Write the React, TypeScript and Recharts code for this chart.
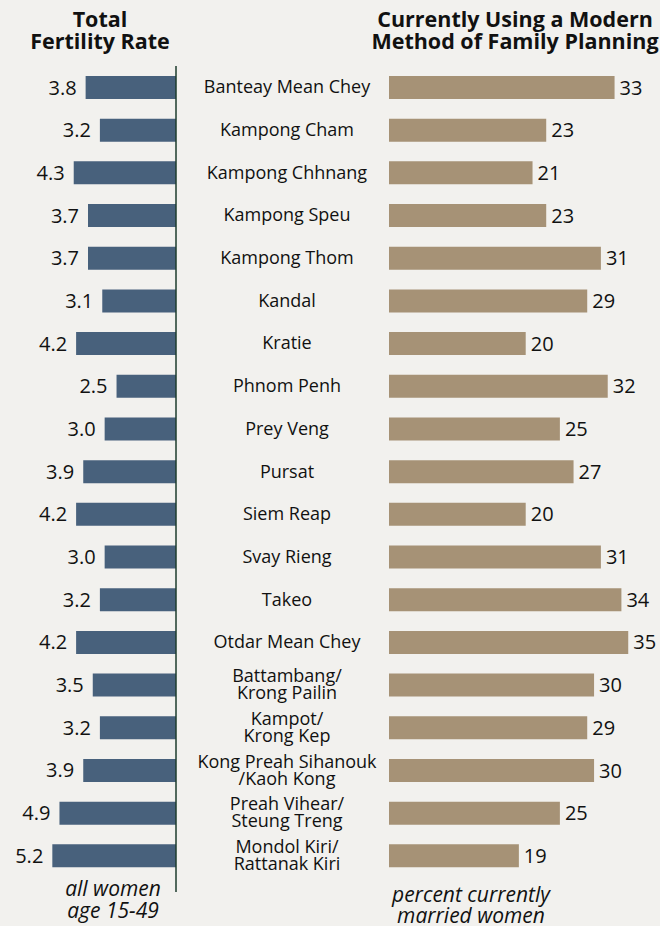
import { Bar, BarChart, LabelList, XAxis, YAxis } from "recharts";

const provinces = [
  "Banteay Mean Chey",
  "Kampong Cham",
  "Kampong Chhnang",
  "Kampong Speu",
  "Kampong Thom",
  "Kandal",
  "Kratie",
  "Phnom Penh",
  "Prey Veng",
  "Pursat",
  "Siem Reap",
  "Svay Rieng",
  "Takeo",
  "Otdar Mean Chey",
  "Battambang/\nKrong Pailin",
  "Kampot/\nKrong Kep",
  "Kong Preah Sihanouk\n/Kaoh Kong",
  "Preah Vihear/\nSteung Treng",
  "Mondol Kiri/\nRattanak Kiri",
];

const fertility = [3.8, 3.2, 4.3, 3.7, 3.7, 3.1, 4.2, 2.5, 3.0, 3.9, 4.2, 3.0, 3.2, 4.2, 3.5, 3.2, 3.9, 4.9, 5.2];
const familyPlanning = [33, 23, 21, 23, 31, 29, 20, 32, 25, 27, 20, 31, 34, 35, 30, 29, 30, 25, 19];

const data = provinces.map((name, i) => ({ name, tfr: fertility[i], fp: familyPlanning[i] }));

const BG = "#F2F1EE";
const BLUE = "#48617C";
const TAN = "#A69276";
const AXIS = "#1D3B2C";
const FONT = "'Open Sans', sans-serif";

function ProvinceTick(props: any) {
  const { y, payload } = props;
  const lines: string[] = String(payload.value).split("\n");
  const start = y + 6 - (lines.length - 1) * 8.5;
  return (
    <text x={287} y={start} textAnchor="middle" fontSize={18} fill="#111" fontFamily={FONT}>
      {lines.map((l, i) => (
        <tspan key={i} x={287} y={start + i * 17}>
          {l}
        </tspan>
      ))}
    </text>
  );
}

// bars on the reversed axis can come back with a negative width, so find the real left edge
function LeftValue(props: any) {
  const { x, y, width, height, value } = props;
  const left = Math.min(x, x + width);
  return (
    <text x={left - 9} y={y + height / 2 + 7} textAnchor="end" fontSize={20} fill="#111" fontFamily={FONT}>
      {Number(value).toFixed(1)}
    </text>
  );
}

export default function App() {
  return (
    <div
      style={{
        position: "absolute",
        left: 0,
        top: 0,
        width: 660,
        height: 926,
        background: BG,
        overflow: "hidden",
        fontFamily: FONT,
        color: "#111",
      }}
    >
      <div style={{ position: "absolute", left: 0, width: 200, top: 8, textAlign: "center", fontWeight: 700, fontSize: 21.5, lineHeight: "22px" }}>
        Total
        <br />
        Fertility Rate
      </div>
      <div style={{ position: "absolute", left: 355, width: 320, top: 8, textAlign: "center", fontWeight: 700, fontSize: 21.5, lineHeight: "22px", whiteSpace: "nowrap" }}>
        Currently Using a Modern
        <br />
        Method of Family Planning
      </div>

      <div style={{ position: "absolute", left: 0, top: 66 }}>
        <BarChart width={389} height={826} data={data} layout="vertical" margin={{ top: 0, right: 0, bottom: 0, left: 0 }} barCategoryGap={0}>
          <XAxis type="number" domain={[0, 7.4]} reversed hide />
          <YAxis
            type="category"
            dataKey="name"
            orientation="right"
            width={213}
            interval={0}
            padding={{ top: 0, bottom: 15 }}
            axisLine={{ stroke: AXIS, strokeWidth: 1.5 }}
            tickLine={false}
            tick={<ProvinceTick />}
          />
          <Bar dataKey="tfr" fill={BLUE} barSize={23} isAnimationActive={false}>
            <LabelList dataKey="tfr" content={<LeftValue />} />
          </Bar>
        </BarChart>
      </div>

      <div style={{ position: "absolute", left: 387, top: 60 }}>
        <BarChart width={272} height={829} data={data} layout="vertical" margin={{ top: 0, right: 0, bottom: 0, left: 2 }} barCategoryGap={0}>
          <XAxis type="number" domain={[0, 39.5]} hide />
          <YAxis
            type="category"
            dataKey="name"
            width={0}
            interval={0}
            padding={{ top: 6, bottom: 12 }}
            axisLine={{ stroke: AXIS, strokeWidth: 1.5 }}
            tickLine={false}
            tick={false}
          />
          <Bar dataKey="fp" fill={TAN} barSize={23} isAnimationActive={false}>
            <LabelList dataKey="fp" position="right" offset={5} style={{ fontSize: 20, fill: "#111", fontFamily: FONT }} />
          </Bar>
        </BarChart>
      </div>

      <div style={{ position: "absolute", left: 23, width: 180, top: 877, textAlign: "center", fontStyle: "italic", fontSize: 21, lineHeight: "22px" }}>
        all women
        <br />
        age 15-49
      </div>
      <div style={{ position: "absolute", left: 366, width: 210, top: 884, textAlign: "center", fontStyle: "italic", fontSize: 21, lineHeight: "21px" }}>
        percent currently
        <br />
        married women
      </div>
    </div>
  );
}
